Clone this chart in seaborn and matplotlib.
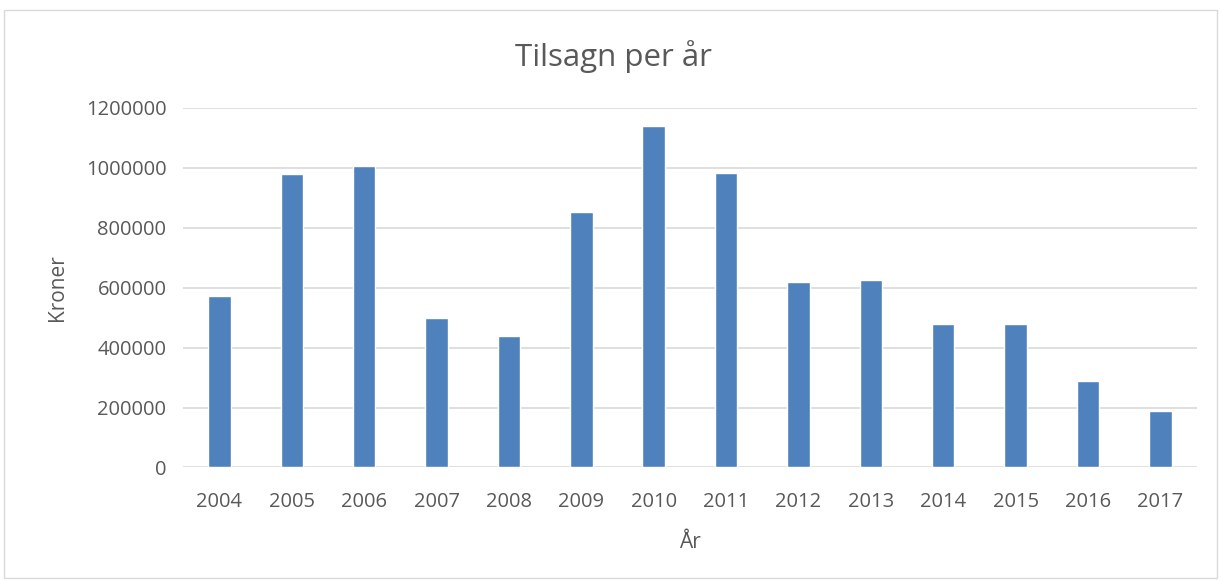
import pandas as pd
import seaborn as sns
import matplotlib.pyplot as plt
from matplotlib.patches import Rectangle

# Data
years = ['2004', '2005', '2006', '2007', '2008', '2009', '2010',
         '2011', '2012', '2013', '2014', '2015', '2016', '2017']
kroner = [572000, 978000, 1005000, 498000, 439000, 852000, 1139000,
          982000, 618000, 626000, 479000, 479000, 289000, 187000]
yticks = [0, 200000, 400000, 600000, 800000, 1000000, 1200000]

df = pd.DataFrame({'Year': years, 'Kroner': kroner})

sns.set_style('white')
plt.rcParams['font.family'] = ['Open Sans', 'DejaVu Sans']
text_color = '#595959'
grid_color = '#d9d9d9'

fig = plt.figure(figsize=(12.21, 5.8), dpi=100)
ax = fig.add_axes([0.150, 0.194, 0.830, 0.620])

sns.barplot(data=df, x='Year', y='Kroner', color='#4f81bd', width=0.31,
            saturation=1, ax=ax, zorder=3)

ax.set_ylim(0, 1200000)
ax.set_yticks(yticks)
ax.set_yticklabels([str(v) for v in yticks])
ax.set_xlim(-0.5, len(years) - 0.5)
ax.yaxis.grid(True, color=grid_color, linewidth=1.2, zorder=0)
ax.set_axisbelow(True)
for side in ['top', 'right', 'left', 'bottom']:
    ax.spines[side].set_visible(False)
ax.tick_params(axis='both', length=0, labelsize=14.5, colors=text_color)
ax.tick_params(axis='x', pad=18)
ax.tick_params(axis='y', pad=12)

ax.set_xlabel('År', fontsize=15, color=text_color, labelpad=14)
ax.set_ylabel('Kroner', fontsize=15, color=text_color, labelpad=13)
# title centred on the whole chart, like the original
fig.text(0.5025, 0.903, 'Tilsagn per år', fontsize=22.5, color=text_color,
         ha='center', va='center')

# Light frame around the whole chart
fig.patches.append(Rectangle((0.003, 0.003), 0.994, 0.98, transform=fig.transFigure,
                             fill=False, edgecolor=grid_color, linewidth=1))

plt.savefig('out.png', dpi=100)
plt.close()
